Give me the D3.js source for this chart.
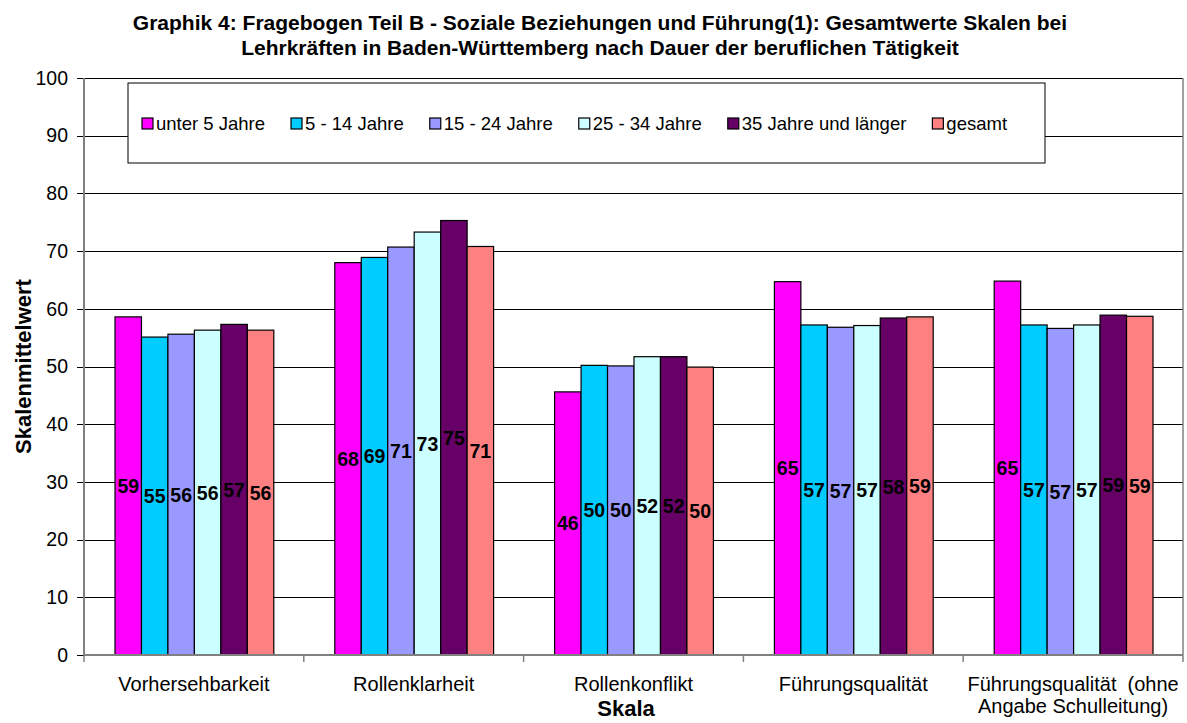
<!DOCTYPE html>
<html>
<head>
<meta charset="utf-8">
<title></title>
<script src="https://d3js.org/d3.v7.min.js"></script>
<style>
  body { margin:0; background:#fff; font-family: "Liberation Sans", Arial, sans-serif; }
  .grid line { stroke:#000; stroke-width:1; shape-rendering:crispEdges; }
</style>
</head>
<body>
<svg id="chart"></svg>
<script>
var categories = ["Vorhersehbarkeit", "Rollenklarheit", "Rollenkonflikt", "Führungsqualität", "Führungsqualität  (ohne|Angabe Schulleitung)"];
var seriesNames = ["unter 5 Jahre", "5 - 14 Jahre", "15 - 24 Jahre", "25 - 34 Jahre", "35 Jahre und länger", "gesamt"];
var colors = ["#FF00FF", "#00CCFF", "#9999FF", "#CCFFFF", "#660066", "#FF8080"];
// rows = series, columns = categories
var values = [
  [58.6, 68.0, 45.6, 64.7, 64.8],
  [55.1, 68.9, 50.2, 57.2, 57.2],
  [55.6, 70.7, 50.1, 56.8, 56.6],
  [56.3, 73.3, 51.7, 57.1, 57.2],
  [57.3, 75.3, 51.7, 58.4, 58.9],
  [56.3, 70.8, 49.9, 58.6, 58.7]
];
var yTicks = [0, 10, 20, 30, 40, 50, 60, 70, 80, 90, 100];

var W = 1187, H = 723;
var margin = {top:78, right:4, bottom:68, left:84};
var width = W - margin.left - margin.right,
    height = H - margin.top - margin.bottom;

var svg = d3.select("#chart").attr("width", W).attr("height", H);
var font = "'Liberation Sans', Arial, sans-serif";

// title
var title = svg.append("text").attr("font-family", font)
  .attr("font-size", "21px").attr("font-weight", "bold").attr("text-anchor", "middle");
title.append("tspan").attr("x", 600).attr("y", 30).text("Graphik 4: Fragebogen Teil B - Soziale Beziehungen und Führung(1): Gesamtwerte Skalen bei");
title.append("tspan").attr("x", 600).attr("y", 55).text("Lehrkräften in Baden-Württemberg nach Dauer der beruflichen Tätigkeit");

var g = svg.append("g").attr("transform", "translate(" + margin.left + "," + margin.top + ")");

var x0 = d3.scaleBand().domain(categories).range([0, width]);
var x1 = d3.scaleBand().domain(seriesNames).range([31, x0.bandwidth() - 30]);
var y = d3.scaleLinear().domain([0, 100]).range([height, 0]);

// gridlines with outward ticks
g.append("g").attr("class", "grid")
  .call(d3.axisLeft(y).tickValues(yTicks).tickSize(-width).tickFormat(""))
  .call(function(a){ a.select(".domain").remove(); a.selectAll("line").attr("x1", -7); });

// right border
g.append("line").attr("x1", width).attr("x2", width).attr("y1", 0).attr("y2", height)
  .attr("stroke", "#808080").attr("stroke-width", 1.5);

// y axis labels
g.append("g")
  .call(d3.axisLeft(y).tickValues(yTicks).tickSize(0).tickPadding(16))
  .call(function(a){
    a.select(".domain").remove();
    a.selectAll("text").attr("font-size", "19.5px").attr("font-family", font).attr("fill", "#000");
  });

// legend
var lg = svg.append("g").attr("transform", "translate(128,83)");
lg.append("rect").attr("width", 917).attr("height", 80).attr("fill", "#fff")
  .attr("stroke", "#000").attr("stroke-width", 1);
var lx = 14;
seriesNames.forEach(function(s, i) {
  lg.append("rect").attr("x", lx).attr("y", 35).attr("width", 11).attr("height", 11)
    .attr("fill", colors[i]).attr("stroke", "#000").attr("stroke-width", 1.2);
  var t = lg.append("text").attr("x", lx + 14).attr("y", 46.5)
    .attr("font-family", font).attr("font-size", "18.5px").text(s);
  lx += 14 + t.node().getComputedTextLength() + 26;
});

// bars
var groups = g.selectAll("g.series").data(values).enter().append("g").attr("class", "series");
groups.each(function(row, si) {
  var sel = d3.select(this);
  sel.selectAll("rect").data(row).enter().append("rect")
    .attr("x", function(d, ci) { return x0(categories[ci]) + x1(seriesNames[si]); })
    .attr("y", function(d) { return y(d); })
    .attr("width", x1.bandwidth())
    .attr("height", function(d) { return height - y(d); })
    .attr("fill", colors[si]).attr("stroke", "#000").attr("stroke-width", 1.2);
  sel.selectAll("text").data(row).enter().append("text")
    .attr("x", function(d, ci) { return x0(categories[ci]) + x1(seriesNames[si]) + x1.bandwidth() / 2; })
    .attr("y", function(d) { return y(d / 2) + 7; })
    .attr("text-anchor", "middle").attr("font-family", font)
    .attr("font-size", "19.5px").attr("font-weight", "bold").attr("fill", "#000")
    .text(function(d) { return Math.round(d); });
});

// left axis line
g.append("line").attr("x1", 0).attr("x2", 0).attr("y1", 0).attr("y2", height)
  .attr("stroke", "#808080").attr("stroke-width", 2);

// x axis
var xAxis = g.append("g").attr("transform", "translate(0," + height + ")");
xAxis.append("line").attr("x1", 0).attr("x2", width).attr("y1", 0).attr("y2", 0)
  .attr("stroke", "#808080").attr("stroke-width", 2);
x0.domain().forEach(function(c) {
  xAxis.append("line").attr("x1", x0(c)).attr("x2", x0(c)).attr("y1", 0).attr("y2", 7)
    .attr("stroke", "#808080").attr("stroke-width", 1.5);
  var t = xAxis.append("text").attr("text-anchor", "middle").attr("font-family", font)
    .attr("font-size", "20px").attr("fill", "#000");
  c.split("|").forEach(function(part, k) {
    t.append("tspan").attr("x", x0(c) + x0.bandwidth() / 2).attr("y", 36 + k * 22)
      .attr("xml:space", "preserve").text(part);
  });
});
xAxis.append("line").attr("x1", width).attr("x2", width).attr("y1", 0).attr("y2", 7)
  .attr("stroke", "#808080").attr("stroke-width", 1.5);

// axis titles
svg.append("text").attr("x", 626).attr("y", 716).attr("text-anchor", "middle")
  .attr("font-family", font).attr("font-size", "22px").attr("font-weight", "bold").text("Skala");
svg.append("text").attr("transform", "translate(31," + (margin.top + height / 2) + ") rotate(-90)")
  .attr("text-anchor", "middle").attr("font-family", font).attr("font-size", "22px")
  .attr("font-weight", "bold").text("Skalenmittelwert");
</script>
</body>
</html>
